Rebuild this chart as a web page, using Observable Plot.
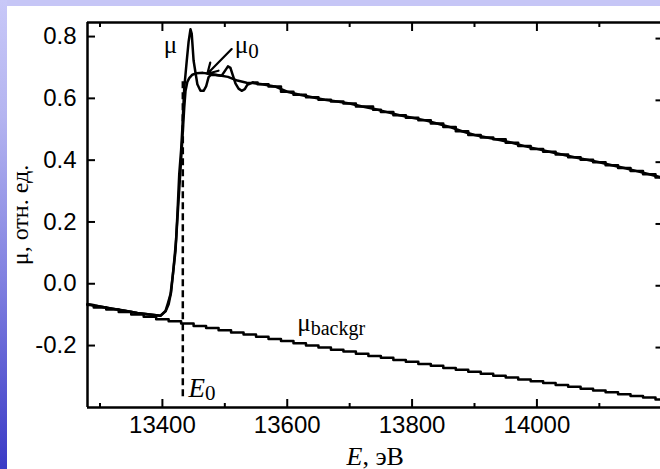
<!DOCTYPE html>
<html><head><meta charset="utf-8">
<script src="https://cdn.jsdelivr.net/npm/d3@7"></script>
<script src="https://cdn.jsdelivr.net/npm/@observablehq/plot@0.6"></script>
<style>
html,body{margin:0;padding:0;background:#fff;overflow:hidden;width:660px;height:469px;}
#wrap{position:relative;width:660px;height:469px;overflow:hidden;background:#fff;}
#topband{position:absolute;left:0;top:0;width:660px;height:6px;background:#c6c6f6;z-index:2}
#leftband{position:absolute;left:0;top:0;width:7px;height:469px;background:linear-gradient(to bottom,#c8c8f8 0%,#b4b4f0 25%,#8080e0 60%,#3a3ac6 100%);z-index:2}
#chart{position:absolute;left:0;top:0;width:700px;}
#chart svg{max-width:none !important;}
</style></head><body>
<div id="wrap"><div id="chart"></div><div id="topband"></div><div id="leftband"></div></div>
<script>
// ---- data ----
const bgE = [13280,13300,13320,13340,13360,13380,13400,13420,13440,13460,13480,13500,13520,13540,13560,13580,13600,13620,13640,13660,13680,13700,13720,13740,13760,13780,13800,13820,13840,13860,13880,13900,13920,13940,13960,13980,14000,14020,14040,14060,14080,14100,14120,14140,14160,14180,14200];
const bgV = [-0.062,-0.070,-0.077,-0.085,-0.093,-0.100,-0.108,-0.115,-0.122,-0.130,-0.137,-0.144,-0.151,-0.158,-0.165,-0.172,-0.179,-0.186,-0.193,-0.200,-0.207,-0.213,-0.220,-0.227,-0.233,-0.240,-0.246,-0.253,-0.259,-0.266,-0.272,-0.278,-0.285,-0.291,-0.297,-0.303,-0.309,-0.315,-0.321,-0.327,-0.333,-0.339,-0.345,-0.351,-0.357,-0.362,-0.368];

const muE = [13280,13300,13320,13340,13360,13380,13397,13405,13409,13413,13417,13421,13424,13427,13430,13432,13435,13439,13442,13445,13447,13450,13453,13456,13461,13466,13470,13474,13478,13485,13495,13501,13505,13509,13513,13517,13522,13527,13532,13536,13545,13560,13580,13600,13620,13640,13660,13680,13700,13720,13735,13740,13760,13780,13800,13820,13840,13860,13880,13900,13920,13940,13960,13980,14000,14020,14040,14060,14080,14100,14120,14140,14160,14180,14200];
const muV = [-0.060,-0.067,-0.074,-0.081,-0.088,-0.093,-0.097,-0.081,-0.055,-0.027,0.040,0.113,0.230,0.362,0.440,0.512,0.640,0.728,0.790,0.830,0.815,0.728,0.690,0.652,0.631,0.631,0.645,0.675,0.683,0.682,0.680,0.698,0.710,0.705,0.680,0.655,0.638,0.631,0.636,0.650,0.658,0.652,0.645,0.628,0.618,0.610,0.602,0.596,0.590,0.580,0.580,0.570,0.562,0.552,0.544,0.536,0.525,0.514,0.500,0.488,0.480,0.474,0.463,0.452,0.443,0.434,0.425,0.416,0.408,0.400,0.390,0.381,0.371,0.361,0.350];

const mu0E = [13280,13300,13320,13340,13360,13380,13397,13405,13410,13414,13418,13422,13426,13430,13433,13435,13437,13440,13443,13448,13455,13465,13475,13490,13505,13520,13535,13545,13560,13580,13600,13620,13640,13660,13680,13700,13720,13740,13760,13780,13800,13820,13840,13860,13880,13900,13920,13940,13960,13980,14000,14020,14040,14060,14080,14100,14120,14140,14160,14180,14200];
const mu0V = [-0.060,-0.067,-0.074,-0.081,-0.088,-0.093,-0.097,-0.083,-0.060,-0.020,0.060,0.150,0.280,0.410,0.510,0.577,0.630,0.660,0.672,0.683,0.688,0.689,0.686,0.681,0.676,0.664,0.657,0.656,0.652,0.645,0.628,0.618,0.610,0.602,0.596,0.590,0.580,0.572,0.562,0.552,0.544,0.536,0.525,0.514,0.500,0.488,0.480,0.472,0.463,0.452,0.443,0.434,0.425,0.416,0.408,0.400,0.390,0.381,0.371,0.361,0.350];

const e0E = [13432.7];
const e0Span = [0.66, -0.36];
const arrowFrom = [13511, 0.766];
const arrowTo = [13472, 0.686];

const labelText = ["μ", "μ0", "μbackgr", "E0"];
const labelE = [13402, 13516, 13616, 13442];
const labelV = [0.752, 0.752, -0.148, -0.361];

const xMajor = [13400, 13600, 13800, 14000];
const xMinor = [13300, 13500, 13700, 13900, 14100];
const yTicks = [-0.2, 0.0, 0.2, 0.4, 0.6, 0.8];
const xDomain = [13280, 14202];
const yDomain = [-0.394, 0.852];
const edgeEnd = 13545;
const xTitle = "E, эВ";
const yTitle = "μ, отн. ед.";

// ---- tables ----
const bg = bgE.map((e, i) => ({E: e, v: bgV[i]}));
const mu = muE.map((e, i) => ({E: e, v: muV[i]}));
const mu0 = mu0E.map((e, i) => ({E: e, v: mu0V[i]}));
const e0 = e0E.map(e => ({E: e, top: e0Span[0], bottom: e0Span[1]}));
const arrows = [{x1: arrowFrom[0], y1: arrowFrom[1], x2: arrowTo[0], y2: arrowTo[1]}];
const labels = labelText.map((t, i) => ({t, E: labelE[i], v: labelV[i]}));

const serif = "'Liberation Serif','Times New Roman',serif";
const sans = "'Liberation Sans',Arial,sans-serif";
const blank = () => "";

const chart = Plot.plot({
  width: 680, height: 469,
  marginLeft: 87, marginRight: 17.5, marginTop: 22, marginBottom: 62,
  style: {fontFamily: sans, fontSize: "24px", background: "white", maxWidth: "none", color: "black", overflow: "visible"},
  x: {domain: xDomain, label: null},
  y: {domain: yDomain, label: null},
  marks: [
    Plot.line(bg, {x: "E", y: "v", curve: "step", stroke: "black", strokeWidth: 2.5}),
    Plot.line(mu0, {x: "E", y: "v", stroke: "black", strokeWidth: 2.5}),
    Plot.line(mu, {filter: d => d.E <= edgeEnd, x: "E", y: "v", stroke: "black", strokeWidth: 2.5}),
    Plot.line(mu, {filter: d => d.E >= edgeEnd, x: "E", y: "v", curve: "step", stroke: "black", strokeWidth: 2.5}),
    Plot.ruleX(e0, {x: "E", y1: "top", y2: "bottom", stroke: "black", strokeWidth: 2.5, strokeDasharray: "7,4"}),
    Plot.arrow(arrows, {x1: "x1", y1: "y1", x2: "x2", y2: "y2", stroke: "black", strokeWidth: 2.2, headLength: 10}),
    Plot.text(labels.slice(0, 3), {x: "E", y: "v", text: "t", textAnchor: "start", lineAnchor: "bottom", fontFamily: serif, fontSize: 25}),
    Plot.text(labels.slice(3), {x: "E", y: "v", text: "t", textAnchor: "start", lineAnchor: "bottom", fontFamily: serif, fontSize: 27}),
    Plot.axisY(yTicks, {anchor: "left", tickSize: -8, tickPadding: 19, tickFormat: d => d.toFixed(1), strokeWidth: 2, dy: -2, label: null}),
    Plot.axisY(yTicks, {anchor: "right", tickSize: -8, tickFormat: blank, strokeWidth: 2, label: null}),
    Plot.axisX(xMajor, {anchor: "bottom", tickSize: -8, tickPadding: 16, tickFormat: d => String(d), strokeWidth: 2, label: null}),
    Plot.axisX(xMinor, {anchor: "bottom", tickSize: -4, tickFormat: blank, strokeWidth: 2, label: null}),
    Plot.axisX(xMajor, {anchor: "top", tickSize: -8, tickFormat: blank, strokeWidth: 2, label: null}),
    Plot.axisX(xMinor, {anchor: "top", tickSize: -4, tickFormat: blank, strokeWidth: 2, label: null}),
    Plot.text([xTitle], {frameAnchor: "bottom", dy: 57, lineAnchor: "bottom", fontFamily: serif, fontSize: 26}),
    Plot.text([yTitle], {frameAnchor: "left", dx: -67, rotate: -90, textAnchor: "middle", lineAnchor: "middle", fontFamily: serif, fontSize: 24}),
    // frame: left, top and bottom edges (the right edge lies outside the window)
    Plot.ruleX([xDomain[0]], {stroke: "black", strokeWidth: 2.5}),
    Plot.ruleY([yDomain[0], yDomain[1]], {stroke: "black", strokeWidth: 2.5})
  ]
});
document.getElementById("chart").appendChild(chart);

// rich text (italic / subscripts)
function rich(plain, parts) {
  d3.select(chart).selectAll("text").filter(function () { return this.textContent === plain; }).each(function () {
    const t = d3.select(this);
    t.text(null);
    parts.forEach(p => {
      const s = t.append("tspan").text(p.t);
      if (p.italic) s.attr("font-style", "italic");
      if (p.size) s.attr("font-size", p.size);
      if (p.dy) s.attr("dy", p.dy);
    });
  });
}
rich("μ0", [{t: "μ"}, {t: "0", size: 21, dy: 5}]);
rich("μbackgr", [{t: "μ"}, {t: "backgr", size: 20, dy: 4}]);
rich("E0", [{t: "E", italic: true}, {t: "0", size: 21, dy: 3}]);
rich(xTitle, [{t: "E", italic: true}, {t: ", эВ"}]);
</script></body></html>
